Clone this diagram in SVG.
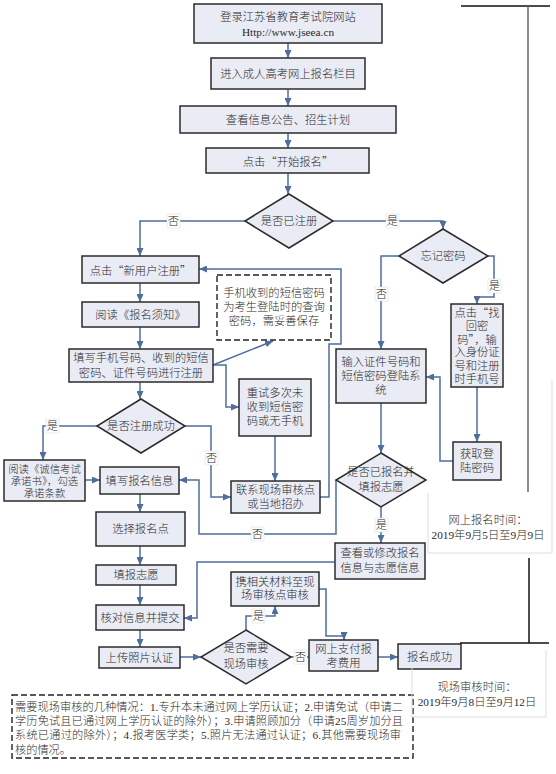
<svg xmlns="http://www.w3.org/2000/svg" width="556" height="774" viewBox="0 0 556 774">
<defs>
<marker id="a" markerWidth="8" markerHeight="7" refX="8" refY="3.5" orient="auto" markerUnits="userSpaceOnUse"><path d="M0,0 L8,3.5 L0,7 z" fill="#4F6E9E"/></marker>
<style>
.b{fill:#E9EBF5;stroke:#2b2b2b;stroke-width:1.5}
.dash{fill:#fff;stroke:#222;stroke-width:1.4;stroke-dasharray:6 3}
.t{font-family:"Liberation Serif","Noto Sans CJK SC",serif;font-size:11.3px;font-weight:300;fill:#2a2a2a;text-anchor:middle;dominant-baseline:central}
.q{font-family:"Noto Sans CJK SC","Liberation Serif",sans-serif}
.s{font-size:10.4px}
.f{font-family:"Liberation Serif","Noto Sans CJK SC",serif;font-size:11.2px;font-weight:300;fill:#2a2a2a}
.c{fill:none;stroke:#4F6E9E;stroke-width:1.5;marker-end:url(#a)}
.lb{fill:#fff;stroke:#ddd;stroke-width:0.6}
.tl{fill:none;stroke:#111;stroke-width:1.5}
.lt{fill:none;stroke:#ddd;stroke-width:1}
</style>
</defs>
<rect width="556" height="774" fill="#fff"/>

<g id="connectors">
<path class="c" d="M288 43V58"/>
<path class="c" d="M288 89V106"/>
<path class="c" d="M288 133V148"/>
<path class="c" d="M288 173V194"/>
<path class="c" d="M245 221H140V256"/>
<path class="c" d="M333 221H443V229"/>
<path class="c" d="M140 283V302"/>
<path class="c" d="M140 327V349"/>
<path class="c" d="M140 382V399"/>
<path class="c" d="M213 365L273 341"/>
<path class="c" d="M213 365H226V407H239"/>
<path class="c" d="M399 256H381V349"/>
<path class="c" d="M488 256H494V297H477V304"/>
<path class="c" d="M477 387V442"/>
<path class="c" d="M453 461H440V377H426"/>
<path class="c" d="M381 403V453"/>
<path class="c" d="M381 507V543"/>
<path class="c" d="M336 480V534H199V480H179"/>
<path class="c" d="M97 426H43V460"/>
<path class="c" d="M185 426H211V497H231"/>
<path class="c" d="M275 436V481"/>
<path class="c" d="M320 497H329V344H341V269H199"/>
<path class="c" d="M85 480H100"/>
<path class="c" d="M140 494V512"/>
<path class="c" d="M140 546V565"/>
<path class="c" d="M140 585V605"/>
<path class="c" d="M140 630V647"/>
<path class="c" d="M334 562H197V618H184"/>
<path class="c" d="M180 657H201"/>
<path class="c" d="M246 630V616H275V606"/>
<path class="c" d="M291 657H309"/>
<path class="c" d="M319 589H326V636H344V640"/>
<path class="c" d="M378 657H398"/>
<g id="labels">
<rect class="lb" x="167" y="214" width="13" height="14"/><text class="t" x="173.5" y="221">否</text>
<rect class="lb" x="386" y="214" width="13" height="14"/><text class="t" x="392.5" y="221">是</text>
<rect class="lb" x="375" y="287" width="13" height="14"/><text class="t" x="381.5" y="294">否</text>
<rect class="lb" x="488" y="279" width="13" height="14"/><text class="t" x="494.5" y="286">是</text>
<rect class="lb" x="46" y="419" width="13" height="14"/><text class="t" x="52.5" y="426">是</text>
<rect class="lb" x="205" y="451" width="13" height="14"/><text class="t" x="211.5" y="458">否</text>
<rect class="lb" x="375" y="518" width="13" height="14"/><text class="t" x="381.5" y="525">是</text>
<rect class="lb" x="251" y="527" width="13" height="14"/><text class="t" x="257.5" y="534">否</text>
<rect class="lb" x="252" y="609" width="13" height="14"/><text class="t" x="258.5" y="616">是</text>
<rect class="lb" x="294" y="650" width="13" height="14"/><text class="t" x="300.5" y="657">否</text>
</g>
</g>

<g id="n1"><rect class="b" x="194" y="4" width="188" height="39"/><text class="t" x="288" y="17">登录江苏省教育考试院网站</text><text class="t" x="288" y="32">Http://www.jseea.cn</text></g>
<g id="n2"><rect class="b" x="211" y="58" width="154" height="31"/><text class="t" x="288" y="73.5">进入成人高考网上报名栏目</text></g>
<g id="n3"><rect class="b" x="180" y="106" width="216" height="27"/><text class="t" x="288" y="119.5">查看信息公告、招生计划</text></g>
<g id="n4"><rect class="b" x="206" y="148" width="163" height="25"/><text class="t q" x="288" y="160.5">点击“开始报名”</text></g>
<g id="d1"><path class="b" d="M289 194L333 221L289 248L245 221Z"/><text class="t" x="289" y="221">是否已注册</text></g>
<g id="d2"><path class="b" d="M443 229L488 256L443 283L399 256Z"/><text class="t" x="443" y="256">忘记密码</text></g>
<g id="n5"><rect class="b" x="82" y="256" width="117" height="27"/><text class="t q" x="140.5" y="269.5">点击“新用户注册”</text></g>
<g id="n6"><rect class="dash" x="217" y="275" width="114" height="65"/><text class="t" x="274" y="293">手机收到的短信密码</text><text class="t" x="274" y="307">为考生登陆时的查询</text><text class="t" x="274" y="321">密码，需妥善保存</text></g>
<g id="n7"><rect class="b" x="82" y="302" width="117" height="25"/><text class="t" x="140.5" y="314.5">阅读《报名须知》</text></g>
<g id="n8"><rect class="b" x="451" y="304" width="52" height="83"/><text class="t q" x="477" y="312">点击“找</text><text class="t" x="477" y="325.5">回密</text><text class="t q" x="477" y="339">码”，输</text><text class="t" x="477" y="352">入身份证</text><text class="t" x="477" y="365.5">号和注册</text><text class="t" x="477" y="379">时手机号</text></g>
<g id="n9"><rect class="b" x="69" y="349" width="144" height="33"/><text class="t" x="141" y="358">填写手机号码、收到的短信</text><text class="t" x="141" y="373">密码、证件号码进行注册</text></g>
<g id="n10"><rect class="b" x="336" y="349" width="90" height="54"/><text class="t" x="381" y="362">输入证件号码和</text><text class="t" x="381" y="376">短信密码登陆系</text><text class="t" x="381" y="390">统</text></g>
<g id="n11"><rect class="b" x="239" y="379" width="72" height="57"/><text class="t" x="275" y="393">重试多次未</text><text class="t" x="275" y="407">收到短信密</text><text class="t" x="275" y="421">码或无手机</text></g>
<g id="d3"><path class="b" d="M141 399L185 426L141 453L97 426Z"/><text class="t" x="141" y="426">是否注册成功</text></g>
<g id="n12"><rect class="b" x="453" y="442" width="48" height="38"/><text class="t" x="477" y="454">获取登</text><text class="t" x="477" y="468">陆密码</text></g>
<g id="d4"><path class="b" d="M381 453L426 480L381 507L336 480Z"/><text class="t" x="381" y="472">是否已报名并</text><text class="t" x="381" y="487">填报志愿</text></g>
<g id="n13"><rect class="b" x="4" y="460" width="81" height="41"/><text class="t s" x="44.5" y="469">阅读《诚信考试</text><text class="t s" x="44.5" y="481">承诺书》，勾选</text><text class="t s" x="44.5" y="493">承诺条款</text></g>
<g id="n14"><rect class="b" x="100" y="467" width="79" height="27"/><text class="t" x="139.5" y="480.5">填写报名信息</text></g>
<g id="n15"><rect class="b" x="231" y="481" width="89" height="32"/><text class="t" x="275.5" y="490">联系现场审核点</text><text class="t" x="275.5" y="504">或当地招办</text></g>
<g id="n16"><rect class="b" x="96" y="512" width="89" height="34"/><text class="t" x="140.5" y="529">选择报名点</text></g>
<g id="n17"><rect class="b" x="335" y="543" width="90" height="36"/><text class="t" x="380" y="553">查看或修改报名</text><text class="t" x="380" y="568">信息与志愿信息</text></g>
<g id="n18"><rect class="b" x="96" y="565" width="80" height="20"/><text class="t" x="136" y="575">填报志愿</text></g>
<g id="n19"><rect class="b" x="231" y="572" width="88" height="34"/><text class="t" x="275" y="582">携相关材料至现</text><text class="t" x="275" y="595">场审核点审核</text></g>
<g id="n20"><rect class="b" x="96" y="605" width="88" height="25"/><text class="t" x="140" y="617.5">核对信息并提交</text></g>
<g id="d5"><path class="b" d="M246 630L291 657L246 684L201 657Z"/><text class="t" x="246" y="648">是否需要</text><text class="t" x="246" y="664">现场审核</text></g>
<g id="n21"><rect class="b" x="99" y="647" width="81" height="21"/><text class="t" x="139.5" y="657.5">上传照片认证</text></g>
<g id="n22"><rect class="b" x="309" y="640" width="69" height="31"/><text class="t" x="343.5" y="649">网上支付报</text><text class="t" x="343.5" y="663">考费用</text></g>
<g id="n23"><rect class="b" x="398" y="644" width="63" height="25"/><text class="t" x="429.5" y="656.5">报名成功</text></g>

<g id="note">
<rect class="dash" x="12" y="695" width="401" height="63"/>
<text class="f" x="15" y="711" textLength="388" lengthAdjust="spacing">需要现场审核的几种情况：1.专升本未通过网上学历认证；2.申请免试（申请二</text>
<text class="f" x="15" y="725" textLength="388" lengthAdjust="spacing">学历免试且已通过网上学历认证的除外）；3.申请照顾加分（申请25周岁加分且</text>
<text class="f" x="15" y="739" textLength="386" lengthAdjust="spacing">系统已通过的除外）；4.报考医学类；5.照片无法通过认证；6.其他需要现场审</text>
<text class="f" x="15" y="754">核的情况。</text>
</g>

<g id="timeline">
<path class="tl" d="M461 6H550"/>
<path fill="none" stroke="#666" stroke-width="1.5" d="M528 6V492"/>
<path class="lt" d="M428 493V553H552V380"/>
<text class="t" x="488" y="520">网上报名时间：</text>
<text class="t" x="488" y="535">2019年9月5日至9月9日</text>
<path class="tl" d="M529 558V643"/>
<path class="tl" d="M460 643H549"/>
<path class="lt" d="M412 668V717H546V650"/>
<text class="t" x="477" y="687">现场审核时间：</text>
<text class="t" x="477" y="702">2019年9月8日至9月12日</text>
</g>
</svg>
